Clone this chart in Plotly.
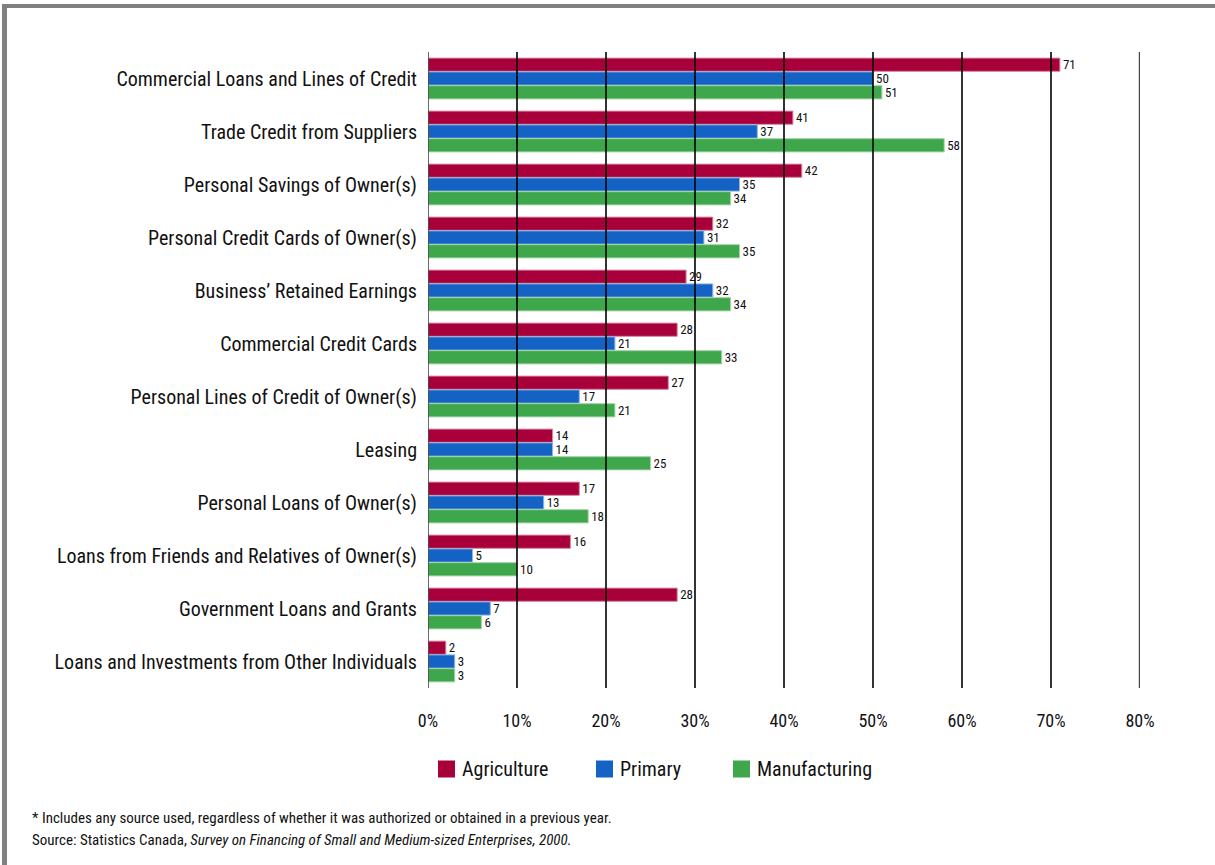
import plotly.graph_objects as go

categories = [
    "Commercial Loans and Lines of Credit",
    "Trade Credit from Suppliers",
    "Personal Savings of Owner(s)",
    "Personal Credit Cards of Owner(s)",
    "Business\u2019 Retained Earnings",
    "Commercial Credit Cards",
    "Personal Lines of Credit of Owner(s)",
    "Leasing",
    "Personal Loans of Owner(s)",
    "Loans from Friends and Relatives of Owner(s)",
    "Government Loans and Grants",
    "Loans and Investments from Other Individuals",
]
agriculture = [71, 41, 42, 32, 29, 28, 27, 14, 17, 16, 28, 2]
primary = [50, 37, 35, 31, 32, 21, 17, 14, 13, 5, 7, 3]
manufacturing = [51, 58, 34, 35, 34, 33, 21, 25, 18, 10, 6, 3]

tick_vals = [0, 10, 20, 30, 40, 50, 60, 70, 80]
tick_text = ["0%", "10%", "20%", "30%", "40%", "50%", "60%", "70%", "80%"]

FONT = "Liberation Sans Narrow, Arial Narrow, Roboto Condensed, Arial, sans-serif"

series = [
    ("Agriculture", agriculture, "#A8003A", "#D9879F"),
    ("Primary", primary, "#1463C4", "#8DB4E4"),
    ("Manufacturing", manufacturing, "#3EA64B", "#A2D4A8"),
]

fig = go.Figure()
for name, vals, color, edge in series:
    fig.add_trace(go.Bar(
        name=name,
        y=categories,
        x=vals,
        orientation="h",
        marker=dict(color=color, line=dict(color=edge, width=1)),
        text=[str(v) for v in vals],
        textposition="outside",
        constraintext="none",
        textfont=dict(family=FONT, size=13, color="#111111"),
        cliponaxis=False,
        showlegend=False,
    ))

# plot area in pixels: left 428, right 1140, top 52, bottom 688
L, R, T, B = 428, 1140, 52, 688
W, H = R - L, B - T


def px_x(p):
    return (p - L) / W


def px_y(p):
    return (B - p) / H


shapes = []
# vertical gridlines drawn over the bars
for v in tick_vals:
    shapes.append(dict(
        type="line", xref="x", yref="paper", x0=v, x1=v, y0=0, y1=1,
        line=dict(color="#444444" if v in (0, 80) else "#000000",
                  width=2.4 if v == 80 else 1.6),
        layer="above",
    ))
# page frame: grey rule on the left and top
shapes.append(dict(type="line", xref="paper", yref="paper",
                   x0=px_x(4.5), x1=px_x(4.5), y0=px_y(6), y1=px_y(870),
                   line=dict(color="#808080", width=5)))
shapes.append(dict(type="line", xref="paper", yref="paper",
                   x0=px_x(2), x1=px_x(1220), y0=px_y(6), y1=px_y(6),
                   line=dict(color="#808080", width=4)))

annotations = []

# legend: coloured squares with series names
legend_left = [438, 596, 733]
for (name, _, color, _), x0 in zip(series, legend_left):
    shapes.append(dict(type="rect", xref="paper", yref="paper",
                       x0=px_x(x0), x1=px_x(x0 + 17),
                       y0=px_y(777.5), y1=px_y(760.5),
                       fillcolor=color, line=dict(width=0)))
    annotations.append(dict(xref="paper", yref="paper",
                            x=px_x(x0 + 22), y=px_y(769),
                            xanchor="left", yanchor="middle", showarrow=False,
                            text=name,
                            font=dict(family=FONT, size=20, color="#111111")))

annotations += [
    dict(xref="paper", yref="paper", x=px_x(30), y=px_y(818),
         xanchor="left", yanchor="middle", showarrow=False,
         text="* Includes any source used, regardless of whether it was authorized or obtained in a previous year.",
         font=dict(family=FONT, size=15, color="#111111")),
    dict(xref="paper", yref="paper", x=px_x(30), y=px_y(840),
         xanchor="left", yanchor="middle", showarrow=False,
         text="Source: Statistics Canada, <i>Survey on Financing of Small and Medium-sized Enterprises, 2000.</i>",
         font=dict(family=FONT, size=15, color="#111111")),
]

fig.update_layout(
    width=1215, height=865,
    margin=dict(l=L, r=1215 - R, t=T, b=865 - B, pad=0),
    paper_bgcolor="white", plot_bgcolor="white",
    barmode="group", bargap=0.22, bargroupgap=0.04,
    font=dict(family=FONT, color="#111111"),
    showlegend=False,
    xaxis=dict(
        range=[0, 80], tickvals=tick_vals, ticktext=tick_text,
        showgrid=False, zeroline=False, showline=False, ticks="",
        tickfont=dict(family=FONT, size=18, color="#111111"),
        ticklabelstandoff=20,
    ),
    yaxis=dict(
        autorange="reversed", showgrid=False, zeroline=False,
        showline=False, ticks="", ticklabelstandoff=10,
        tickfont=dict(family=FONT, size=20, color="#111111"),
    ),
    shapes=shapes,
    annotations=annotations,
)

fig.write_html("out.html")
